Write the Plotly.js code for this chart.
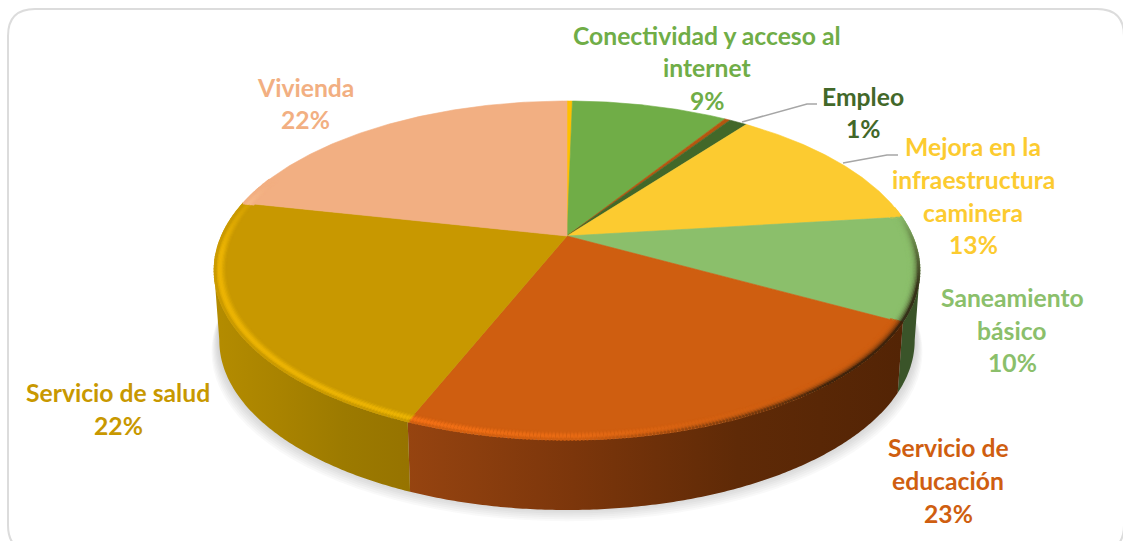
<!DOCTYPE html>
<html lang="es">
<head>
<meta charset="utf-8">
<script src="https://cdn.plot.ly/plotly-3.0.1.min.js"></script>
<style>html,body{margin:0;padding:0;background:#fff;overflow:hidden}#chart{width:1123px;height:541px}</style>
</head>
<body>
<div id="chart"></div>
<script>
// Data (share of each slice, clockwise from the top)
const categories = ['Sin etiqueta A','Conectividad y acceso al internet','Sin etiqueta B','Empleo','Mejora en la infraestructura caminera','Saneamiento básico','Servicio de educación','Servicio de salud','Vivienda'];
const shares     = [0.3, 8.7, 0.3, 1.0, 12.8, 9.9, 23.1, 22.3, 21.6];
const faceColors = ['#FFC000','#70AD47','#B5560F','#426829','#FCCB30','#8BBF6B','#CF5E10','#C89800','#F2AF82'];
const wallScales = [
  ['#8a6d00','#8a6d00'],['#3f6128','#3f6128'],['#6e310a','#6e310a'],['#2a4419','#2a4419'],['#8f7118','#8f7118'],
  ['#3A5429','#3A5429'],
  ['#964410','#7c360b','#5f2a07','#532405'],
  ['#B48C00','#A98300','#9C7A00','#967300'],
  ['#8a6347','#8a6347']
];
// Labels, line by line
const labelLines = [
  {t:'Conectividad y acceso al',c:'#70AD47',cx:707,y:35},
  {t:'internet',c:'#70AD47',cx:707,y:67},
  {t:'9%',c:'#70AD47',cx:707,y:100},
  {t:'Empleo',c:'#426829',cx:863,y:96},
  {t:'1%',c:'#426829',cx:863,y:128},
  {t:'Mejora en la',c:'#FCCB30',cx:973,y:146},
  {t:'infraestructura',c:'#FCCB30',cx:973,y:179},
  {t:'caminera',c:'#FCCB30',cx:973,y:212},
  {t:'13%',c:'#FCCB30',cx:973,y:244},
  {t:'Saneamiento',c:'#8BBF6B',cx:1012,y:297},
  {t:'básico',c:'#8BBF6B',cx:1012,y:330},
  {t:'10%',c:'#8BBF6B',cx:1012,y:362},
  {t:'Servicio de',c:'#CF5E10',cx:948,y:447},
  {t:'educación',c:'#CF5E10',cx:948,y:480},
  {t:'23%',c:'#CF5E10',cx:948,y:513},
  {t:'Servicio de salud',c:'#C89800',cx:118,y:392},
  {t:'22%',c:'#C89800',cx:118,y:425},
  {t:'Vivienda',c:'#F2AF82',cx:305,y:87},
  {t:'22%',c:'#F2AF82',cx:305,y:119}
];

// Perspective of the tilted disc
const cx=567, cy=236, R=345.6, K=162.5, P=0.2035, DEPTH=70, SHRINK=0.985;
const TANGENT_R=101.7, TANGENT_L=258.3;
function disc(deg,r){
  const a=deg*Math.PI/180, u=r*Math.sin(a), v=-r*Math.cos(a), w=1-P*v;
  return [cx+R*u/w, cy+K*v/w];
}
function base(deg,r){
  const p=disc(deg,r);
  return [cx+(p[0]-cx)*SHRINK, p[1]+DEPTH];
}
function hex(c){return [1,3,5].map(i=>parseInt(c.substr(i,2),16));}
function mix(a,b,t){return a.map((x,i)=>x+(b[i]-x)*t);}
function rgb(a){return 'rgb('+a.map(Math.round).join(',')+')';}
function clamp(x){return Math.max(0,Math.min(1,x));}
function ramp(x,a,b){return clamp((x-a)/(b-a));}

const traces=[];
// Soft shadow under the disc
for(let i=0;i<9;i++){
  const xs=[],ys=[],g=1+i*0.0028,off=2+i*1.9;
  for(let d=0;d<=360;d+=3){const p=base(d,1);xs.push(cx+(p[0]-cx)*g);ys.push(p[1]+off-6);}
  traces.push({type:'scatter',mode:'none',x:xs,y:ys,fill:'toself',fillcolor:'rgba(90,90,90,0.035)',hoverinfo:'skip',showlegend:false});
}
// Angular extents of the slices
let acc=0;
const spans=shares.map(s=>{const a=acc*3.6;acc+=s;return [a,acc*3.6];});
// Side walls
spans.forEach((sp,i)=>{
  const a=Math.max(sp[0],TANGENT_R), b=Math.min(sp[1],TANGENT_L);
  if(b<=a) return;
  const xs=[],ys=[];
  for(let d=a;d<b;d+=0.5){const p=disc(d,1);xs.push(p[0]);ys.push(p[1]);}
  let q=disc(b,1);xs.push(q[0]);ys.push(q[1]);
  q=base(b,1);xs.push(q[0]);ys.push(q[1]);
  for(let d=b;d>a;d-=0.5){const p=base(d,1);xs.push(p[0]);ys.push(p[1]);}
  q=base(a,1);xs.push(q[0]);ys.push(q[1]);
  const st=wallScales[i];
  traces.push({type:'scatter',mode:'none',x:xs,y:ys,fill:'toself',
    fillgradient:{type:'horizontal',colorscale:st.map((c,k)=>[k/(st.length-1),c])},
    hoverinfo:'skip',showlegend:false});
});
// Top faces
spans.forEach((sp,i)=>{
  const xs=[cx],ys=[cy];
  for(let d=sp[0];d<sp[1];d+=0.5){const p=disc(d,1);xs.push(p[0]);ys.push(p[1]);}
  const e=disc(sp[1],1);xs.push(e[0],cx);ys.push(e[1],cy);
  traces.push({type:'scatter',mode:'lines',x:xs,y:ys,fill:'toself',fillcolor:faceColors[i],
    line:{color:faceColors[i],width:0.6},name:categories[i],hoverinfo:'skip',showlegend:false});
});
// Bevel along the rim
const BANDS=9;
for(let b=0;b<BANDS;b++){
  const t=b/(BANDS-1), r=0.968+0.029*t, xs=[],ys=[],cs=[];
  spans.forEach((sp,i)=>{
    const face=hex(faceColors[i]);
    const glow=face.map(x=>Math.min(255,x*1.16+4));
    for(let d=Math.max(sp[0],80);d<Math.min(sp[1],292);d+=0.5){
      const p=disc(d,r);xs.push(p[0]);ys.push(p[1]);
      const light=ramp(d,135,200)*(1-ramp(d,265,290));
      const dark=ramp(d,82,108)*(1-ramp(d,140,178));
      let c=mix(face,glow,light*Math.sin(Math.PI*Math.pow(t,1.5)*0.97));
      c=mix(c,[38,24,10],0.85*dark*t*t*t);
      cs.push(rgb(c));
    }
  });
  traces.push({type:'scatter',mode:'markers',x:xs,y:ys,marker:{size:3,color:cs,line:{width:0}},hoverinfo:'skip',showlegend:false});
}

const font='Lato, Carlito, sans-serif';
const annotations=labelLines.map(l=>({x:l.cx,y:l.y,xref:'x',yref:'y',text:'<b>'+l.t+'</b>',showarrow:false,
  xanchor:'center',yanchor:'middle',font:{family:font,size:24.7,color:l.c}}));

const layout={
  width:1123,height:541,margin:{l:0,r:0,t:0,b:0},
  paper_bgcolor:'#fff',plot_bgcolor:'#fff',showlegend:false,
  xaxis:{range:[0,1123],visible:false,fixedrange:true},
  yaxis:{range:[541,0],visible:false,fixedrange:true},
  annotations,
  shapes:[
    {type:'path',xref:'x',yref:'y',layer:'below',line:{color:'#DCDCDC',width:2},
     path:'M 8 36 Q 8 9 35 9 L 1097 9 Q 1124 9 1124 36 L 1124 525 Q 1124 552 1097 552 L 35 552 Q 8 552 8 525 Z'},
    {type:'path',xref:'x',yref:'y',line:{color:'#A6A6A6',width:1.6},path:'M 742 122 L 807 104 L 817 104'},
    {type:'path',xref:'x',yref:'y',line:{color:'#A6A6A6',width:1.6},path:'M 843 163 L 887 155 L 898 155'}
  ]
};
Plotly.newPlot('chart',traces,layout,{displayModeBar:false,staticPlot:true});
</script>
</body>
</html>
